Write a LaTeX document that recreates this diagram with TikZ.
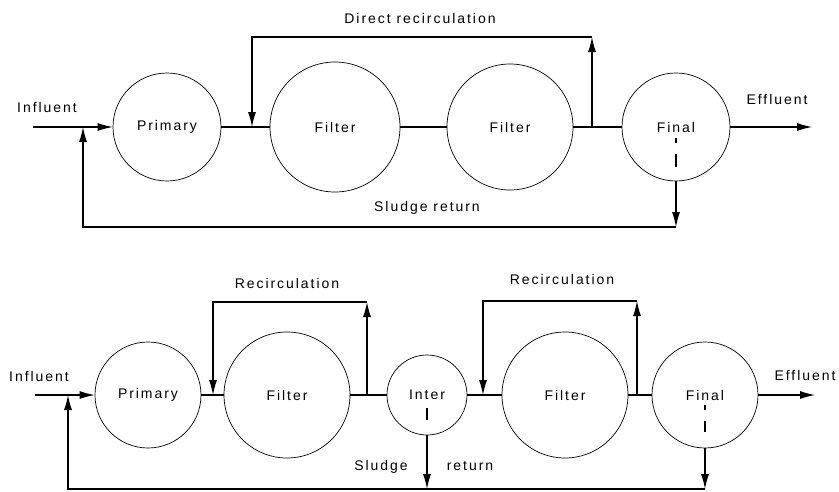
\documentclass[tikz,border=0pt]{standalone}
\usepackage{fontspec}
\setmainfont[LetterSpace=14]{Liberation Sans}
\usetikzlibrary{arrows.meta}
\usetikzlibrary{positioning,calc}

\begin{document}
\begin{tikzpicture}[x=1pt,y=-1pt,
         basin/.style = {circle,draw,line width=0.7pt,inner sep=0pt,
            minimum size=#1,font=\fontsize{14}{16}\selectfont},
         pipe/.style = {line width=1.1pt},
         feed/.style = {pipe,-{Latex[length=15pt,width=8pt]}},
         tag/.style = {font=\fontsize{14}{16}\selectfont,inner sep=0pt},
         sludge/.style = {line width=1.1pt,dash pattern=on 5pt off 11pt on 13pt}
]
   \useasboundingbox (0,0) rectangle (839,491);

   % upper scheme, direct recirculation
   \node[basin=108pt] (prim1) at (167,127) {Primary};
   \node[basin=130pt] (filt1) at (335,127) {Filter};
   \node[basin=126pt] (filt2) at (510,127) {Filter};
   \node[basin=108pt] (fin1)  at (676,127) {Final};

   \coordinate (in1)  at (33,127);
   \coordinate (ret1) at (83,127);
   \coordinate (rc1a) at (252,127);
   \coordinate (rc1b) at (592,127);
   \coordinate (dr1a) at (252,37);
   \coordinate (dr1b) at (592,37);
   \coordinate (sr1a) at (83,227);
   \coordinate (sr1b) at (676,227);
   \coordinate (out1) at (812,127);

   \draw[feed] (in1) -- (prim1);
   \draw[pipe] (prim1) -- (filt1);
   \draw[pipe] (filt1) -- (filt2);
   \draw[pipe] (filt2) -- (fin1);
   \draw[feed] (fin1) -- (out1);

   % recirculation loop
   \draw[feed] (rc1b) -- (dr1b);
   \draw[feed] (dr1b) -- (dr1a) -- (rc1a);

   % sludge back to the head
   \draw[sludge] ($(fin1)+(0,11)$) -- ($(fin1)+(0,41)$);
   \draw[feed] (fin1.south) -- (sr1b);
   \draw[feed] (sr1b) -- (sr1a) -- (ret1);

   \node[tag] (inl1) at (47,107)  {Influent};
   \node[tag] (dir1) at (420,18)  {Direct recirculation};
   \node[tag] (eff1) at (777,99)  {Effluent};
   \node[tag] (slr1) at (427,208) {Sludge return};

   % lower scheme, two stages
   \node[basin=106pt] (prim2)  at (148,395) {Primary};
   \node[basin=126pt] (filt3)  at (287,395) {Filter};
   \node[basin=80pt]  (inter2) at (427,395) {Inter};
   \node[basin=126pt] (filt4)  at (565,395) {Filter};
   \node[basin=106pt] (fin2)   at (705,395) {Final};

   \coordinate (in2)  at (35,395);
   \coordinate (ret2) at (68,395);
   \coordinate (rc2a) at (213,395);
   \coordinate (rc2b) at (367,395);
   \coordinate (dr2a) at (213,302);
   \coordinate (dr2b) at (367,302);
   \coordinate (rc3a) at (483,395);
   \coordinate (rc3b) at (637,395);
   \coordinate (dr3a) at (483,301);
   \coordinate (dr3b) at (637,301);
   \coordinate (sr2a) at (68,489);
   \coordinate (sr2m) at (427,489);
   \coordinate (sr2b) at (705,489);
   \coordinate (out2) at (815,395);

   \draw[feed] (in2) -- (prim2);
   \draw[pipe] (prim2) -- (filt3);
   \draw[pipe] (filt3) -- (inter2);
   \draw[pipe] (inter2) -- (filt4);
   \draw[pipe] (filt4) -- (fin2);
   \draw[feed] (fin2) -- (out2);

   % first and second recirculation
   \draw[feed] (rc2b) -- (dr2b);
   \draw[feed] (dr2b) -- (dr2a) -- (rc2a);
   \draw[feed] (rc3b) -- (dr3b);
   \draw[feed] (dr3b) -- (dr3a) -- (rc3a);

   % sludge from both settlers
   \draw[pipe] ($(inter2)+(0,13)$) -- ($(inter2)+(0,25)$);
   \draw[sludge] ($(fin2)+(0,10)$) -- ($(fin2)+(0,37)$);
   \draw[feed] (inter2.south) -- (sr2m);
   \draw[feed] (fin2.south) -- (sr2b);
   \draw[pipe] (sr2b) -- (sr2m);
   \draw[feed] (sr2m) -- (sr2a) -- (ret2);

   \node[tag] (inl2) at (39,376)  {Influent};
   \node[tag] (rec2) at (287,283) {Recirculation};
   \node[tag] (rec3) at (562,279) {Recirculation};
   \node[tag] (eff2) at (805,375) {Effluent};
   \node[tag] (slg2) at (381,467) {Sludge};
   \node[tag] (rtn2) at (470,466) {return};
\end{tikzpicture}
\end{document}
